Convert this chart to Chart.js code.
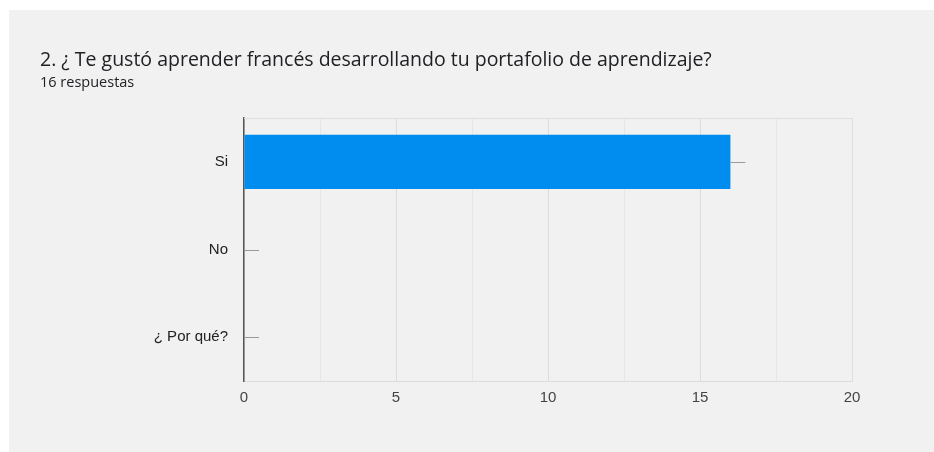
<!DOCTYPE html>
<html>
<head>
<meta charset="utf-8">
<script src="https://cdn.jsdelivr.net/npm/chart.js@4"></script>
<style>
  html, body { margin: 0; padding: 0; background: #fff; }
  #panel { position: absolute; left: 9px; top: 10px; width: 925px; height: 442px; background: #f1f1f1; }
</style>
</head>
<body>
<div id="panel"><canvas id="formChart" width="925" height="442"></canvas></div>
<script>
// --- chart data ---
const titleText = "2. ¿ Te gustó aprender francés desarrollando tu portafolio de aprendizaje?";
const subtitleText = "16 respuestas";
const categories = ["Si", "No", "¿ Por qué?"];
const counts = [16, 0, 0];
const xMax = 20;
const xStep = 2.5;
const labelStep = 5;

// small gray stem at the end of every bar (like Google Forms)
const stemPlugin = {
  id: "stems",
  afterDatasetsDraw(chart) {
    const c = chart.ctx;
    const meta = chart.getDatasetMeta(0);
    c.save();
    c.strokeStyle = "#999";
    c.lineWidth = 1;
    meta.data.forEach((bar) => {
      c.beginPath();
      c.moveTo(bar.x, Math.round(bar.y) + 0.5);
      c.lineTo(bar.x + 15, Math.round(bar.y) + 0.5);
      c.stroke();
    });
    c.restore();
  },
};

// light frame around plot area (top + right)
const framePlugin = {
  id: "frame",
  beforeDatasetsDraw(chart) {
    const a = chart.chartArea;
    const c = chart.ctx;
    c.save();
    c.strokeStyle = "#dedede";
    c.lineWidth = 1;
    c.beginPath();
    c.moveTo(a.left, a.top + 0.5);
    c.lineTo(a.right + 0.5, a.top + 0.5);
    c.lineTo(a.right + 0.5, a.bottom);
    c.stroke();
    c.restore();
  },
};

const ctx = document.getElementById("formChart").getContext("2d");
const formChart = new Chart(ctx, {
  type: "bar",
  data: {
    labels: categories,
    datasets: [
      {
        data: counts,
        backgroundColor: "#018df0",
        barPercentage: 0.62,
        categoryPercentage: 1,
      },
    ],
  },
  options: {
    indexAxis: "y",
    responsive: false,
    animation: false,
    layout: { padding: { left: 31, right: 82, top: 0, bottom: 0 } },
    plugins: {
      legend: { display: false },
      tooltip: { enabled: false },
      title: {
        display: true,
        text: titleText,
        align: "start",
        color: "#202124",
        font: { family: "Open Sans", size: 19.5, weight: "normal" },
        padding: { top: 38.3, bottom: 0 },
      },
      subtitle: {
        display: true,
        text: subtitleText,
        align: "start",
        color: "#202124",
        font: { family: "Open Sans", size: 14.5, weight: "normal" },
        padding: { top: 2.6, bottom: 26.3 },
      },
    },
    scales: {
      x: {
        min: 0,
        max: xMax,
        ticks: {
          stepSize: xStep,
          padding: 8,
          color: "#444",
          font: { family: "Liberation Sans", size: 15 },
          callback: (v) => (v % labelStep === 0 ? v : ""),
        },
        grid: {
          drawTicks: false,
          color: (c) => (c.tick && c.tick.value % labelStep === 0 ? "#dcdcdc" : "#e6e6e6"),
        },
        border: { color: "#dcdcdc" },
        afterFit: (s) => { s.height = 71; },
      },
      y: {
        ticks: {
          padding: 16,
          color: "#222",
          font: { family: "Liberation Sans", size: 15 },
        },
        grid: { display: false, drawTicks: false },
        border: { color: "#555", width: 1.5 },
        afterFit: (s) => { s.width = 204; },
      },
    },
  },
  plugins: [framePlugin, stemPlugin],
});
</script>
</body>
</html>
